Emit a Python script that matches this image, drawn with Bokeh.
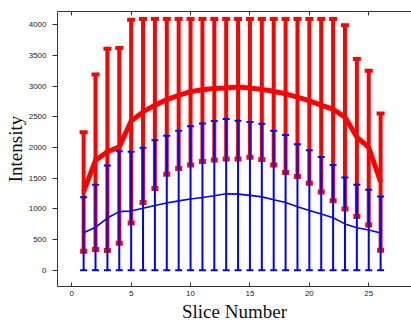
from bokeh.plotting import figure
from bokeh.models import Range1d, LinearAxis, FixedTicker, ColumnDataSource
from bokeh.embed import file_html
from bokeh.resources import INLINE

# ---- data ----
slices = [1, 2, 3, 4, 5, 6, 7, 8, 9, 10, 11, 12, 13, 14, 15, 16, 17, 18, 19, 20, 21, 22, 23, 24, 25, 26]
red_mean = [1280, 1790, 1930, 2010, 2430, 2580, 2690, 2780, 2850, 2910, 2940, 2960, 2970,
            2985, 2970, 2945, 2915, 2875, 2820, 2760, 2690, 2620, 2495, 2170, 2000, 1440]
red_upper = [2250, 3190, 3610, 3620, 4080, 4095, 4095, 4095, 4095, 4095, 4095, 4095, 4095,
             4095, 4095, 4095, 4095, 4095, 4095, 4095, 4095, 4095, 3990, 3440, 3250, 2555]
red_lower = [308, 336, 320, 439, 769, 1104, 1331, 1565, 1656, 1716, 1770, 1797, 1813,
             1813, 1840, 1805, 1716, 1591, 1526, 1419, 1273, 1131, 997, 877, 737, 325]
blue_mean = [610, 700, 850, 955, 965, 1010, 1055, 1095, 1130, 1160, 1185, 1215, 1245,
             1240, 1220, 1195, 1150, 1105, 1035, 975, 918, 855, 755, 692, 655, 607]
blue_upper = [1191, 1391, 1705, 1940, 1932, 1997, 2117, 2192, 2273, 2345, 2390, 2432, 2465,
              2435, 2417, 2388, 2273, 2205, 2052, 1955, 1845, 1714, 1513, 1393, 1310, 1200]
blue_lower = [0, 0, 0, 0, 0, 0, 0, 0, 0, 0, 0, 0, 0,
              0, 0, 0, 0, 0, 0, 0, 0, 0, 0, 0, 0, 0]
x_ticks = [0, 5, 10, 15, 20, 25]
y_ticks = [0, 500, 1000, 1500, 2000, 2500, 3000, 3500, 4000]
x_label = "Slice Number"
y_label = "Intensity"

src = ColumnDataSource(dict(x=slices, red_mean=red_mean, red_upper=red_upper, red_lower=red_lower,
                            blue_mean=blue_mean, blue_upper=blue_upper, blue_lower=blue_lower))

p = figure(width=411, height=324, x_range=Range1d(-1.2, 28.6), y_range=Range1d(-265, 4216),
           output_backend="svg", toolbar_location=None,
           min_border_left=57, min_border_right=0, min_border_top=11, min_border_bottom=37)
p.outline_line_color = None
p.grid.visible = False
p.background_fill_color = "white"
p.border_fill_color = "white"

tick_font = "Liberation Sans"
label_font = "Liberation Serif"
axis_col = "#333333"

xa = p.xaxis[0]
xa.ticker = FixedTicker(ticks=x_ticks)
xa.major_tick_in = 4
xa.major_tick_out = 0
xa.minor_tick_line_color = None
xa.major_label_text_font = tick_font
xa.major_label_text_font_size = "8px"
xa.major_label_standoff = 4
xa.axis_line_color = axis_col
xa.major_tick_line_color = axis_col
xa.major_label_text_color = "#222222"
xa.axis_label = x_label
xa.axis_label_text_font = label_font
xa.axis_label_text_font_size = "19px"
xa.axis_label_text_font_style = "normal"
xa.axis_label_text_color = "#111111"
xa.axis_label_standoff = 2

ya = p.yaxis[0]
ya.ticker = FixedTicker(ticks=y_ticks)
ya.major_tick_in = 0
ya.major_tick_out = 5
ya.minor_tick_line_color = None
ya.major_label_text_font = tick_font
ya.major_label_text_font_size = "8px"
ya.major_label_standoff = 6
ya.axis_line_color = axis_col
ya.major_tick_line_color = axis_col
ya.major_label_text_color = "#222222"
ya.axis_label = y_label
ya.axis_label_text_font = label_font
ya.axis_label_text_font_size = "19px"
ya.axis_label_text_font_style = "normal"
ya.axis_label_text_color = "#111111"
ya.axis_label_standoff = 0

top = LinearAxis(ticker=FixedTicker(ticks=x_ticks), major_tick_in=4, major_tick_out=0,
                 minor_tick_line_color=None, major_label_text_font_size="8px",
                 major_label_text_color=None, major_label_standoff=0,
                 axis_line_color=axis_col, major_tick_line_color=axis_col)
p.add_layout(top, "above")

# red series
p.segment(x0="x", y0="red_lower", x1="x", y1="red_upper", source=src, line_color="#ff0000", line_width=4)
p.rect(x="x", y="red_upper", width=8, height=4, width_units="screen", height_units="screen",
       source=src, fill_color="#ff0000", line_color=None)
p.rect(x="x", y="red_lower", width=7, height=5, width_units="screen", height_units="screen",
       source=src, fill_color="#ff0000", line_color=None)
p.line(x="x", y="red_mean", source=src, line_color="#ff0000", line_width=5, line_join="round")

# blue series
p.segment(x0="x", y0="blue_lower", x1="x", y1="blue_upper", source=src, line_color="#0000ff", line_width=2)
p.rect(x="x", y="blue_upper", width=7, height=2, width_units="screen", height_units="screen",
       source=src, fill_color="#0000ff", line_color=None)
p.rect(x="x", y="blue_lower", width=7, height=2, width_units="screen", height_units="screen",
       source=src, fill_color="#0000ff", line_color=None)
p.line(x="x", y="blue_mean", source=src, line_color="#0000ff", line_width=1.6)

open("out.html", "w").write(file_html(p, INLINE))
